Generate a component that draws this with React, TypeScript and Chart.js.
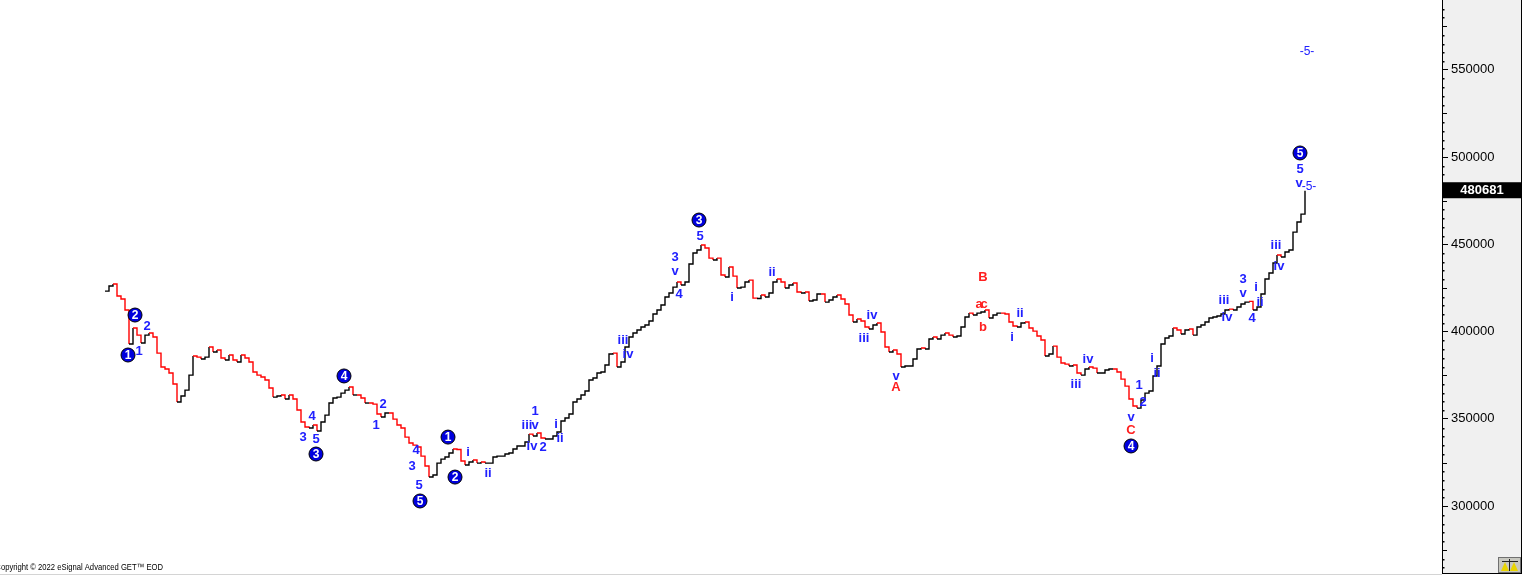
import { useEffect, useRef } from 'react';
import { Chart, registerables } from 'chart.js';

Chart.register(...registerables);

// Weekly closes, in thousands
const closesK: number[] = [
  423.2, 426.1, 427.3, 420.4, 418.7, 412.4, 392.9, 402.1, 398.0, 393.5,
  398.0, 399.2, 396.9, 387.7, 379.7, 378.6, 376.3, 370.0, 359.7, 363.1,
  366.5, 375.1, 386.0, 385.4, 384.3, 385.4, 391.2, 388.3, 389.5, 384.9,
  383.7, 386.6, 383.7, 382.6, 386.6, 384.9, 382.6, 376.9, 375.1, 374.0,
  372.3, 367.7, 362.5, 363.1, 363.7, 361.4, 363.7, 361.4, 355.1, 348.2,
  345.4, 344.8, 346.5, 343.1, 348.2, 352.2, 359.1, 362.0, 362.5, 364.8,
  366.5, 368.3, 363.7, 363.7, 362.0, 359.1, 359.1, 358.5, 352.8, 351.1,
  353.4, 353.4, 349.9, 346.5, 344.8, 339.6, 336.2, 335.0, 333.9, 328.7,
  323.0, 316.7, 317.9, 324.7, 327.0, 328.2, 330.5, 332.8, 332.5, 325.9,
  323.6, 325.3, 326.5, 324.7, 325.3, 324.7, 324.7, 328.2, 328.7, 328.7,
  329.9, 330.5, 332.8, 334.5, 334.5, 336.8, 341.3, 340.2, 341.9, 339.1,
  338.5, 338.5, 340.2, 342.5, 348.8, 350.5, 352.8, 359.7, 361.4, 363.7,
  366.0, 372.3, 373.4, 376.3, 376.9, 380.9, 387.2, 387.7, 379.7, 382.6,
  391.2, 396.9, 399.2, 400.9, 402.6, 403.8, 406.1, 410.1, 412.4, 415.2,
  419.8, 422.1, 425.5, 428.4, 426.7, 428.4, 438.7, 445.0, 446.7, 449.6,
  447.9, 442.1, 441.0, 442.1, 432.4, 431.3, 437.0, 431.8, 425.0, 425.5,
  428.4, 429.5, 419.2, 419.0, 421.0, 419.8, 422.1, 428.4, 430.1, 428.4,
  425.0, 426.7, 427.8, 422.7, 422.1, 422.7, 417.5, 418.1, 421.5, 421.5,
  416.9, 418.1, 419.8, 421.0, 418.7, 415.8, 409.5, 405.5, 407.2, 406.1,
  402.6, 401.5, 403.8, 404.9, 399.8, 391.2, 388.3, 389.5, 387.2, 379.7,
  380.3, 380.3, 384.3, 390.0, 390.6, 390.0, 395.8, 396.9, 395.8, 398.0,
  399.2, 398.0, 396.9, 397.5, 402.6, 408.4, 410.6, 409.5, 410.6, 411.2,
  412.4, 407.8, 409.5, 410.6, 410.6, 410.1, 405.5, 403.2, 402.6, 404.9,
  405.5, 402.1, 400.3, 397.5, 395.2, 386.0, 387.2, 391.7, 385.4, 382.0,
  381.4, 380.3, 380.9, 376.3, 375.1, 378.6, 379.7, 379.1, 376.3, 376.3,
  378.0, 378.6, 378.6, 376.9, 372.8, 368.8, 361.4, 357.4, 356.2, 360.8,
  364.8, 366.0, 374.6, 380.3, 392.9, 396.3, 397.5, 402.1, 400.9, 398.6,
  400.9, 401.5, 398.0, 402.6, 403.8, 405.5, 407.8, 408.4, 408.9, 410.1,
  412.4, 412.9, 412.4, 414.1, 415.8, 416.9, 417.3, 412.4, 414.1, 421.5,
  430.1, 433.6, 439.3, 443.9, 442.7, 445.6, 446.7, 457.0, 462.8, 467.3,
  480.681,
];

const lastPrice = 480681;
const tickValues = [300000, 350000, 400000, 450000, 500000, 550000];

// Wave labels: [text, bar index, price in thousands]
const circleLabels: [string, number, number][] = [
  ['1', 5.75, 386.6], ['2', 7.5, 409.5], ['3', 52.75, 329.9], ['4', 59.75, 374.6],
  ['5', 78.75, 303.0], ['1', 85.75, 339.6], ['2', 87.5, 316.7], ['3', 148.5, 463.9],
  ['4', 256.5, 334.5], ['5', 298.75, 502.3],
];

const blueLabels: [string, number, number][] = [
  ['1', 8.5, 388.9], ['2', 10.5, 403.2], ['3', 49.5, 339.6], ['4', 51.75, 351.7],
  ['5', 52.75, 338.5], ['1', 67.75, 346.5], ['2', 69.5, 358.5], ['4', 77.75, 332.2],
  ['3', 76.75, 323.0], ['5', 78.5, 312.1], ['i', 90.75, 331.0], ['ii', 95.75, 319.0],
  ['1', 107.5, 354.5], ['iii', 105.5, 346.5], ['v', 107.5, 346.5], ['iv', 106.75, 334.5],
  ['2', 109.5, 333.9], ['i', 112.75, 347.1], ['ii', 113.75, 339.1], ['iii', 129.5, 395.2],
  ['iv', 130.75, 387.2], ['3', 142.5, 442.7], ['v', 142.5, 434.7], ['4', 143.5, 421.5],
  ['5', 148.75, 454.7], ['i', 156.75, 419.8], ['ii', 166.75, 434.1], ['iv', 191.75, 409.5],
  ['iii', 189.75, 396.3], ['v', 197.75, 374.6], ['ii', 228.75, 410.6], ['i', 226.75, 396.9],
  ['iii', 242.75, 370.0], ['iv', 245.75, 384.3], ['v', 256.5, 351.1], ['1', 258.5, 369.4],
  ['2', 259.5, 359.7], ['i', 261.75, 384.9], ['ii', 263, 376.3], ['iii', 279.75, 418.1],
  ['iv', 280.5, 408.4], ['3', 284.5, 430.1], ['v', 284.5, 422.1], ['4', 286.75, 407.8],
  ['i', 287.75, 425.5], ['ii', 288.75, 416.9], ['iii', 292.75, 449.6], ['iv', 293.5, 437.6],
  ['5', 298.75, 493.1], ['v', 298.5, 485.1], ['-5-', 301, 482.8], ['-5-', 300.5, 560.1],
];

const redLabels: [string, number, number][] = [
  ['A', 197.75, 368.3], ['B', 219.5, 431.3], ['a', 218.5, 415.8], ['c', 219.75, 415.8],
  ['b', 219.5, 402.6], ['C', 256.5, 343.6],
];

const FONT = '"Liberation Sans", Arial, sans-serif';
const PANEL_RIGHT = 1522;

const overlayPlugin = {
  id: 'overlay',
  beforeDraw(chart: any) {
    const { ctx, chartArea } = chart;
    ctx.save();
    ctx.fillStyle = '#ffffff';
    ctx.fillRect(0, 0, chart.width, chart.height);
    ctx.fillStyle = '#f0f0f0';
    ctx.fillRect(chartArea.right, 0, PANEL_RIGHT - chartArea.right, chartArea.bottom);
    ctx.restore();
  },
  afterDatasetsDraw(chart: any) {
    const { ctx } = chart;
    const xs = chart.scales.x;
    const ys = chart.scales.y;
    ctx.save();
    ctx.textAlign = 'center';
    ctx.textBaseline = 'middle';
    ctx.fillStyle = '#2020ff';
    for (const [t, i, v] of blueLabels) {
      ctx.font = t === '-5-' ? '12px ' + FONT : 'bold 13px ' + FONT;
      ctx.fillText(t, xs.getPixelForValue(i), ys.getPixelForValue(v * 1000));
    }
    ctx.font = 'bold 13px ' + FONT;
    ctx.fillStyle = '#ff2020';
    for (const [t, i, v] of redLabels) {
      ctx.fillText(t, xs.getPixelForValue(i), ys.getPixelForValue(v * 1000));
    }
    for (const [t, i, v] of circleLabels) {
      const x = xs.getPixelForValue(i);
      const y = ys.getPixelForValue(v * 1000);
      ctx.beginPath();
      ctx.arc(x, y, 7, 0, Math.PI * 2);
      ctx.fillStyle = '#0000dd';
      ctx.fill();
      ctx.lineWidth = 1;
      ctx.strokeStyle = '#000000';
      ctx.stroke();
      ctx.fillStyle = '#ffffff';
      ctx.font = 'bold 12px ' + FONT;
      ctx.fillText(t, x, y + 0.5);
    }
    ctx.restore();
  },
  afterDraw(chart: any) {
    const { ctx, chartArea } = chart;
    const ys = chart.scales.y;
    const ax = chartArea.right;
    ctx.save();
    // minor ticks
    ctx.fillStyle = '#000000';
    for (let v = 265000; v <= 590000; v += 5000) {
      if (v % 50000 === 0) continue;
      const y = Math.round(ys.getPixelForValue(v));
      if (y < 1 || y > chartArea.bottom - 1) continue;
      if (v % 25000 === 0) ctx.fillRect(ax + 1, y, 4, 1);
      else ctx.fillRect(ax + 1, y, 1.5, 1.5);
    }
    // price box
    const py = ys.getPixelForValue(lastPrice);
    ctx.fillStyle = '#000000';
    ctx.fillRect(ax + 1, py - 8.5, PANEL_RIGHT - ax - 1, 16);
    ctx.fillStyle = '#ffffff';
    ctx.font = 'bold 13px ' + FONT;
    ctx.textAlign = 'center';
    ctx.textBaseline = 'middle';
    ctx.fillText(String(lastPrice), 1482, py);
    // borders
    ctx.fillStyle = '#000000';
    ctx.fillRect(PANEL_RIGHT - 1, 0, 1, chartArea.bottom + 1);
    ctx.fillRect(ax, chartArea.bottom, PANEL_RIGHT - ax, 1);
    ctx.fillStyle = '#d4d4d4';
    ctx.fillRect(0, chartArea.bottom + 1, ax, 1);
    // icon
    ctx.fillStyle = '#c8c8c0';
    ctx.fillRect(1498, 557, 23, 16);
    ctx.strokeStyle = '#707070';
    ctx.lineWidth = 1;
    ctx.strokeRect(1498.5, 557.5, 22, 15);
    ctx.fillStyle = '#e8d400';
    ctx.beginPath();
    ctx.moveTo(1501, 571); ctx.lineTo(1505, 562); ctx.lineTo(1509, 571); ctx.closePath(); ctx.fill();
    ctx.beginPath();
    ctx.moveTo(1510, 571); ctx.lineTo(1514, 562); ctx.lineTo(1518, 571); ctx.closePath(); ctx.fill();
    ctx.strokeStyle = '#202020';
    ctx.beginPath();
    ctx.moveTo(1502, 561.5); ctx.lineTo(1518, 561.5);
    ctx.moveTo(1509.5, 559); ctx.lineTo(1509.5, 571);
    ctx.stroke();
    // copyright
    ctx.fillStyle = '#000000';
    ctx.font = '9px ' + FONT;
    ctx.textAlign = 'right';
    ctx.textBaseline = 'alphabetic';
    ctx.translate(163, 570);
    ctx.scale(0.85, 1);
    ctx.fillText('Copyright \u00A9 2022 eSignal Advanced GET\u2122 EOD', 0, 0);
    ctx.restore();
  },
};

export default function App() {
  const ref = useRef<HTMLCanvasElement | null>(null);
  useEffect(() => {
    document.body.style.margin = '0';
    const canvas = ref.current;
    if (!canvas) return;
    const chart = new Chart(canvas, {
      type: 'line',
      data: {
        datasets: [
          {
            data: closesK.map((v, i) => ({ x: i, y: v * 1000 })),
            stepped: 'before',
            borderColor: '#000000',
            borderWidth: 1.4,
            pointRadius: 0,
            segment: {
              borderColor: (c: any) => (c.p1.parsed.y < c.p0.parsed.y ? '#ff0000' : '#000000'),
            },
          } as any,
        ],
      },
      options: {
        animation: false,
        responsive: false,
        maintainAspectRatio: false,
        layout: { padding: { left: 0, right: 3, top: 0, bottom: 4 } },
        plugins: { legend: { display: false }, tooltip: { enabled: false } },
        scales: {
          x: { type: 'linear', display: false, min: -26.25, max: 334.25 },
          y: {
            type: 'linear',
            position: 'right',
            min: 261757,
            max: 589914,
            afterBuildTicks: (s: any) => {
              s.ticks = tickValues.map((v) => ({ value: v }));
            },
            afterFit: (s: any) => {
              s.width = 80;
              s.paddingTop = 0;
              s.paddingBottom = 0;
            },
            ticks: {
              autoSkip: false,
              padding: 3,
              color: '#000000',
              font: { family: FONT, size: 13 },
              callback: (v: any) => String(v),
            },
            grid: {
              drawOnChartArea: false,
              drawTicks: true,
              tickLength: 6,
              color: '#000000',
            },
            border: { display: true, color: '#000000', width: 1 },
          },
        },
      },
      plugins: [overlayPlugin],
    });
    return () => chart.destroy();
  }, []);
  return (
    <div style={{ width: 1525, height: 577 }}>
      <canvas ref={ref} width={1525} height={577} style={{ display: 'block' }} />
    </div>
  );
}
